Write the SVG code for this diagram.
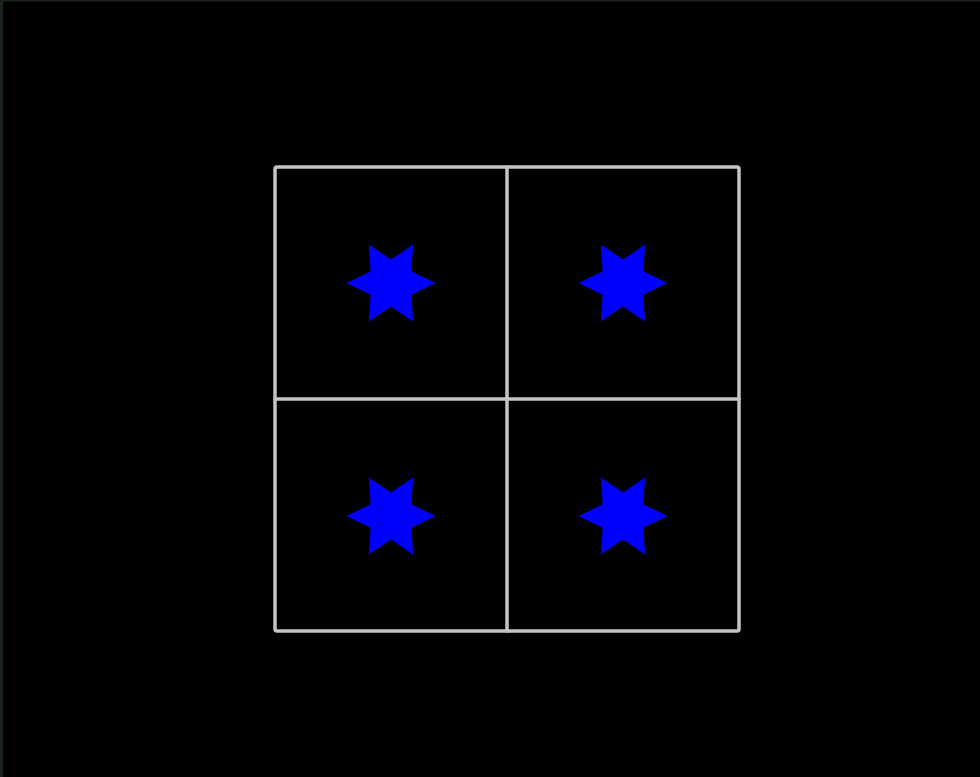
<svg xmlns="http://www.w3.org/2000/svg" width="980" height="777" viewBox="0 0 980 777">
<defs>
<style>
.grid{fill:none;stroke:#c4c4c4;stroke-width:3.5;stroke-linejoin:round;stroke-linecap:round}
.star{fill:#0000ff}
</style>
<polygon id="hex" class="star" points="44.5,0 20.3,11.7 22.2,38.5 0,23.4 -22.2,38.5 -20.3,11.7 -44.5,0 -20.3,-11.7 -22.2,-38.5 0,-23.4 22.2,-38.5 20.3,-11.7"/>
</defs>
<rect x="0" y="0" width="980" height="777" fill="#000"/>
<rect x="0" y="0" width="3" height="777" fill="#1a241a"/>
<rect x="0" y="0" width="980" height="1.5" fill="#1a241a"/>
<g id="connectors">
<rect class="grid" x="275" y="167" width="464" height="464" rx="2"/>
<line class="grid" x1="507" y1="167" x2="507" y2="631"/>
<line class="grid" x1="275" y1="399" x2="739" y2="399"/>
</g>
<g id="star1"><use href="#hex" x="391" y="283"/></g>
<g id="star2"><use href="#hex" x="623" y="283"/></g>
<g id="star3"><use href="#hex" x="391" y="516"/></g>
<g id="star4"><use href="#hex" x="623" y="516"/></g>
</svg>
